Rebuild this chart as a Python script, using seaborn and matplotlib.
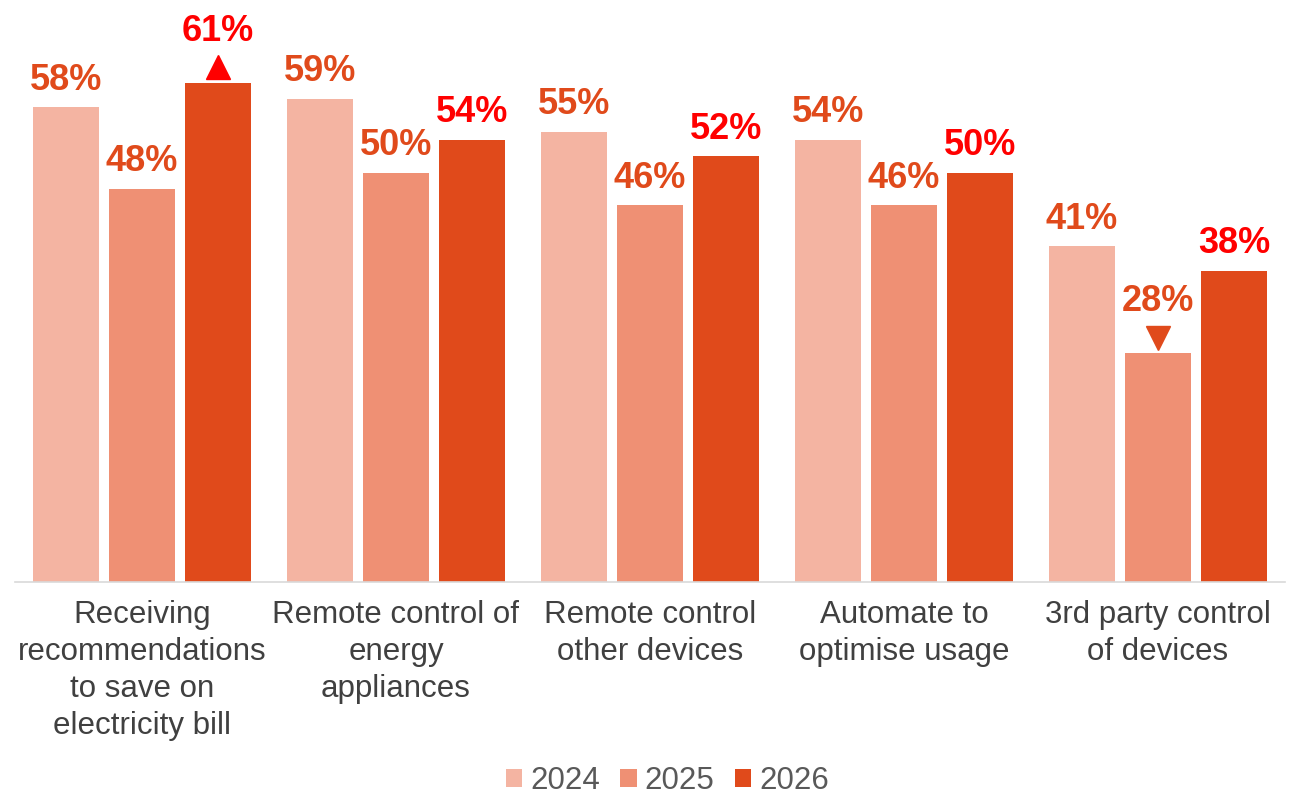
import matplotlib
matplotlib.use("Agg")
import matplotlib.pyplot as plt
import seaborn as sns
import pandas as pd
from matplotlib.patches import Patch
from matplotlib.transforms import ScaledTranslation

# Dados
categories = [
    "Receiving\nrecommendations\nto save on\nelectricity bill",
    "Remote control of\nenergy\nappliances",
    "Remote control\nother devices",
    "Automate to\noptimise usage",
    "3rd party control\nof devices",
]
years = ["2024", "2025", "2026"]
values_2024 = [58, 59, 55, 54, 41]
values_2025 = [48, 50, 46, 46, 28]
values_2026 = [61, 54, 52, 50, 38]
# setas de significância vs ano anterior
sig_2024 = ["", "", "", "", ""]
sig_2025 = ["", "", "", "", "down"]
sig_2026 = ["up", "", "", "", ""]

bar_colors = {"2024": "#F4B4A2", "2025": "#EF9074", "2026": "#E04A1B"}
label_colors = {"2024": "#E04A1B", "2025": "#E04A1B", "2026": "#FF0000"}
arrow_colors = {"up": "#FF0000", "down": "#E04A1B"}

df = pd.DataFrame({
    "category": categories * 3,
    "year": [y for y in years for _ in categories],
    "value": values_2024 + values_2025 + values_2026,
})
sigs = {"2024": sig_2024, "2025": sig_2025, "2026": sig_2026}

sns.set_style("white")
plt.rcParams["font.family"] = ["Liberation Sans", "DejaVu Sans"]

fig = plt.figure(figsize=(13.01, 7.99), dpi=100)
ax = fig.add_axes([15 / 1301, (799 - 582) / 799, 1270 / 1301, 582 / 799])

sns.barplot(data=df, x="category", y="value", hue="year", order=categories,
            hue_order=years, palette=bar_colors, width=0.898, gap=0.13,
            saturation=1, linewidth=0, legend=False, ax=ax)

ax.set_ylim(0, 71.1)
ax.set_xlim(-0.5, len(categories) - 0.5)

for year, cont in zip(years, ax.containers):
    for bar, sig in zip(cont, sigs[year]):
        h = bar.get_height()
        cx = bar.get_x() + bar.get_width() / 2
        offset = 7
        if sig:
            marker = "^" if sig == "up" else "v"
            ax.plot([cx], [h], marker=marker, markersize=17, color=arrow_colors[sig],
                    linestyle="none", clip_on=False,
                    transform=ax.transData + ScaledTranslation(0, 11 / 72, fig.dpi_scale_trans))
            offset = 24
        ax.annotate(f"{h:.0f}%", xy=(cx, h), xytext=(0, offset),
                    textcoords="offset points", ha="center", va="bottom",
                    fontsize=26, fontweight="bold", color=label_colors[year],
                    annotation_clip=False)

for side in ["top", "left", "right"]:
    ax.spines[side].set_visible(False)
ax.spines["bottom"].set_color("#D9D9D9")
ax.spines["bottom"].set_linewidth(1.2)
ax.set_yticks([])
ax.set_xlabel("")
ax.set_ylabel("")
ax.tick_params(axis="x", length=0, pad=13, labelsize=22.5, labelcolor="#404040")
for t in ax.get_xticklabels():
    t.set_linespacing(1.31)

handles = [Patch(facecolor=bar_colors[y], edgecolor="none") for y in years]
fig.legend(handles, years, loc="lower center", ncol=3, frameon=False,
           bbox_to_anchor=(0.513, -0.032), fontsize=22.5, labelcolor="#595959",
           handlelength=0.52, handleheight=0.52, handletextpad=0.26,
           columnspacing=0.65)

fig.savefig("out.png", dpi=100, facecolor="white")
